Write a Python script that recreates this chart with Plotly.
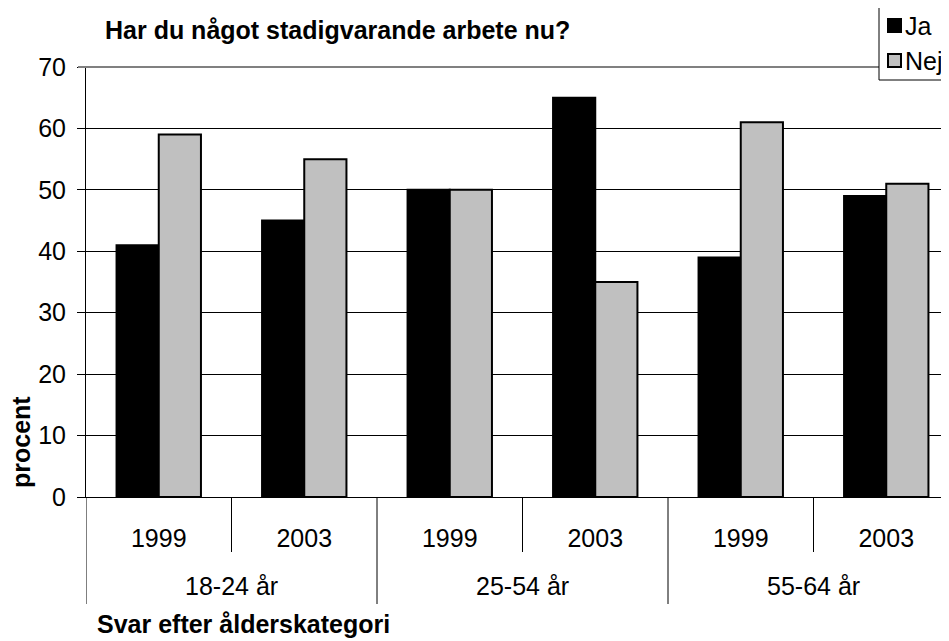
import plotly.graph_objects as go

groups = ["18-24 år", "25-54 år", "55-64 år"]
years = ["1999", "2003"]
ja = [41, 45, 50, 65, 39, 49]
nej = [59, 55, 50, 35, 61, 51]
series_names = ["Ja", "Nej"]
colors = ["#000000", "#C0C0C0"]
yticks = [0, 10, 20, 30, 40, 50, 60, 70]
title = "Har du något stadigvarande arbete nu?"
ytitle = "procent"
xtitle = "Svar efter ålderskategori"

FONT = "Liberation Sans, Arial, sans-serif"
OFF = 8  # page body margin in the browser
W, H = 949 - OFF, 641 - OFF
L, T = 86 - OFF, 67 - OFF
B = H - (497 - OFF)
plot_w = W - L
ph = H - T - B
cat_w = 145.5
pos = list(range(len(groups) * len(years)))
xr = [-0.5, -0.5 + plot_w / cat_w]
ticklabels = [y for g in groups for y in years]


def py(pix):
    return 1 - (pix - OFF - T) / ph


def px(pix):
    return (pix - OFF - L) / plot_w


fig = go.Figure()
for name, vals, c in zip(series_names, [ja, nej], colors):
    fig.add_trace(go.Bar(
        x=pos, y=vals, name=name, marker=dict(color=c, line=dict(color="black", width=2)),
        showlegend=False,
    ))

shapes = []
annotations = []

for i in range(len(pos) + 1):
    xv = i - 0.5
    yb = py(604) if i % 2 == 0 else py(552)
    shapes.append(dict(type="line", xref="x", yref="paper", x0=xv, x1=xv, y0=0, y1=yb,
                       line=dict(color="black", width=1)))

# top border
shapes.append(dict(type="line", xref="paper", yref="paper", x0=px(78), x1=1.02, y0=1, y1=1,
                   line=dict(color="#808080", width=2)))

for gi, g in enumerate(groups):
    annotations.append(dict(x=gi * 2 + 0.5, y=py(586), xref="x", yref="paper", text=g, showarrow=False,
                            font=dict(size=25, color="black", family=FONT), xanchor="center", yanchor="middle"))

annotations.append(dict(x=px(103), y=py(30), xref="paper", yref="paper", text="<b>" + title + "</b>",
                        showarrow=False, xanchor="left", yanchor="middle",
                        font=dict(size=25, color="black", family=FONT)))
annotations.append(dict(x=px(95), y=py(624), xref="paper", yref="paper", text="<b>" + xtitle + "</b>",
                        showarrow=False, xanchor="left", yanchor="middle",
                        font=dict(size=25, color="black", family=FONT)))
annotations.append(dict(x=px(21), y=py(442), xref="paper", yref="paper", text="<b>" + ytitle + "</b>",
                        showarrow=False, xanchor="center", yanchor="middle", textangle=-90,
                        font=dict(size=25, color="black", family=FONT)))

# legend (manual)
shapes.append(dict(type="rect", xref="paper", yref="paper", x0=px(879), x1=px(990), y0=py(5), y1=py(80),
                   line=dict(color="black", width=1), fillcolor="white", layer="above"))
for i, (name, c) in enumerate(zip(series_names, colors)):
    cy = 26 + i * 35
    shapes.append(dict(type="rect", xref="paper", yref="paper", x0=px(888), x1=px(901), y0=py(cy - 7), y1=py(cy + 6),
                       line=dict(color="black", width=2), fillcolor=c, layer="above"))
    annotations.append(dict(x=px(903), y=py(cy), xref="paper", yref="paper", text=name, showarrow=False,
                            xanchor="left", yanchor="middle", font=dict(size=25, color="black", family=FONT)))

fig.update_layout(
    width=W, height=H,
    margin=dict(l=L, r=0, t=T, b=B, autoexpand=False),
    paper_bgcolor="white", plot_bgcolor="white",
    barmode="group", bargap=0.42, bargroupgap=0,
    font=dict(family=FONT, size=25, color="black"),
    shapes=shapes, annotations=annotations,
    xaxis=dict(range=xr, tickvals=pos, ticktext=ticklabels, showgrid=False, zeroline=False,
               showline=True, linecolor="black", linewidth=1, ticks="", ticklabelstandoff=19,
               tickfont=dict(size=25, color="black", family=FONT)),
    yaxis=dict(range=[0, 70], tickvals=yticks, showgrid=True, gridcolor="black", gridwidth=1,
               zeroline=False, showline=True, linecolor="black", linewidth=1,
               ticks="outside", ticklen=8, tickcolor="black", tickwidth=1, ticklabelstandoff=6,
               tickfont=dict(size=25, color="black", family=FONT)),
)

fig.write_html("out.html")
